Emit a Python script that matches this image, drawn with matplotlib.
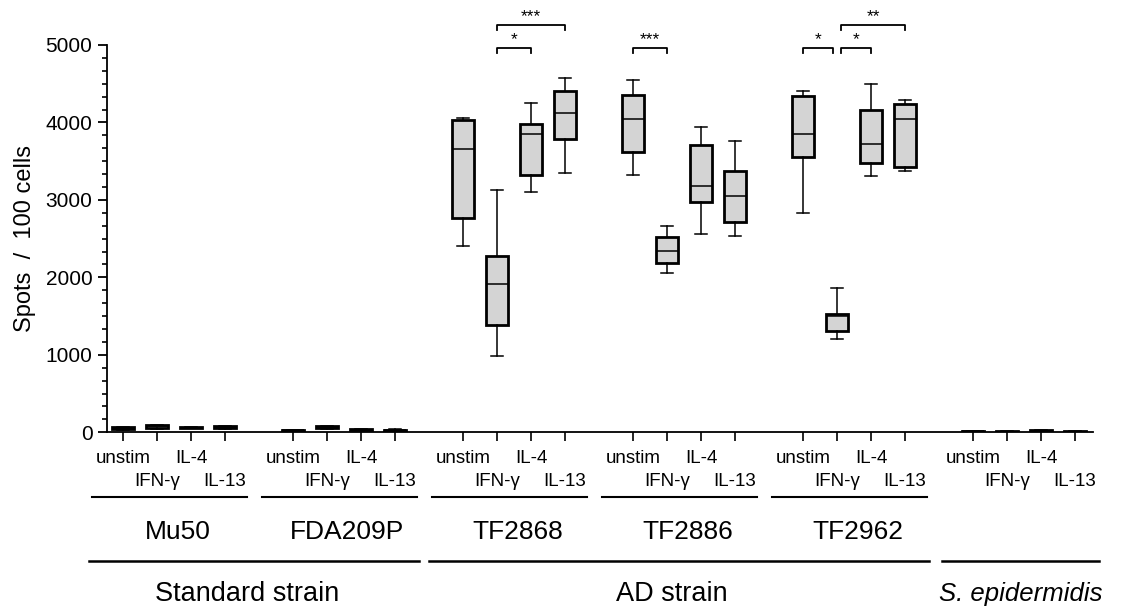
import numpy as np
import matplotlib.pyplot as plt
from matplotlib.ticker import MultipleLocator, AutoMinorLocator

plt.rcParams['font.family'] = ['Liberation Sans', 'DejaVu Sans']

# strains / stimulations
strains = ['Mu50', 'FDA209P', 'TF2868', 'TF2886', 'TF2962', 'S. epidermidis']
stims = ['unstim', 'IFN-γ', 'IL-4', 'IL-13']

# box stats, 4 per strain in stims order
whislo = [30, 45, 50, 45,
          15, 45, 25, 15,
          2410, 990, 3100, 3350,
          3320, 2055, 2565, 2540,
          2835, 1200, 3315, 3375,
          5, 5, 10, 5]
q1 = [40, 60, 55, 55,
      20, 55, 30, 20,
      2770, 1390, 3320, 3785,
      3615, 2190, 2975, 2710,
      3550, 1305, 3480, 3420,
      10, 8, 15, 8]
med = [50, 75, 60, 65,
       25, 65, 35, 25,
       3655, 1910, 3845, 4125,
       4050, 2335, 3185, 3055,
       3850, 1500, 3720, 4045,
       12, 10, 20, 10]
q3 = [65, 90, 65, 75,
      30, 75, 38, 30,
      4030, 2280, 3980, 4405,
      4355, 2520, 3710, 3370,
      4340, 1530, 4160, 4240,
      15, 13, 25, 12]
whishi = [70, 100, 70, 85,
          35, 85, 40, 40,
          4055, 3130, 4245, 4580,
          4550, 2660, 3945, 3760,
          4405, 1865, 4495, 4290,
          18, 15, 28, 14]

# strain classes: (label, first strain idx, last strain idx)
classes = [('Standard strain', 0, 1), ('AD strain', 2, 4), ('S. epidermidis', 5, 5)]

# significance brackets: x1, x2 (box positions), level, label
brackets = [(11, 12, 0, '*'), (11, 13, 1, '***'),
            (15, 16, 0, '***'),
            (20, 20.87, 0, '*'), (21.13, 22, 0, '*'), (21.13, 23, 1, '**')]

pos = []
for g in range(len(strains)):
    for k in range(len(stims)):
        pos.append(g * 5 + k)

stats = []
for i in range(len(pos)):
    stats.append(dict(whislo=whislo[i], q1=q1[i], med=med[i], q3=q3[i], whishi=whishi[i]))

fig = plt.figure(figsize=(11.26, 6.13), dpi=100)
ax = fig.add_axes([0.095, 0.2948, 0.8757, 0.6318])

ax.bxp(stats, positions=pos, widths=0.67, showfliers=False, patch_artist=True,
       manage_ticks=False,
       boxprops=dict(facecolor='#d4d4d4', edgecolor='black', linewidth=2.0),
       medianprops=dict(color='black', linewidth=1.1),
       whiskerprops=dict(color='black', linewidth=1.1),
       capprops=dict(color='black', linewidth=1.1),
       capwidths=0.34)

ax.set_xlim(-0.47, 28.53)
ax.set_ylim(0, 5000)
ax.yaxis.set_major_locator(MultipleLocator(1000))
ax.yaxis.set_minor_locator(AutoMinorLocator(6))
ax.spines['top'].set_visible(False)
ax.spines['right'].set_visible(False)
ax.spines['left'].set_linewidth(1.3)
ax.spines['bottom'].set_linewidth(1.3)
ax.tick_params(axis='y', which='major', length=6.5, width=1.3, labelsize=15, pad=4)
ax.tick_params(axis='y', which='minor', length=3.6, width=1.2)

# unstim / IL-4 on the upper row (major), IFN-γ / IL-13 on the lower row (minor)
top_pos = [p for i, p in enumerate(pos) if i % 2 == 0]
top_lab = [stims[i % 4] for i in range(len(pos)) if i % 2 == 0]
low_pos = [p for i, p in enumerate(pos) if i % 2 == 1]
low_lab = [stims[i % 4] for i in range(len(pos)) if i % 2 == 1]
ax.set_xticks(top_pos, top_lab)
ax.set_xticks(low_pos, low_lab, minor=True)
ax.tick_params(axis='x', which='major', length=6.5, width=1.2, labelsize=13.5, pad=6)
ax.tick_params(axis='x', which='minor', length=6.5, width=1.2, labelsize=13.5, pad=23)

ax.set_ylabel('Spots  /  100 cells', fontsize=17, labelpad=7)

trans = ax.get_xaxis_transform()
# strain names and lines
for g, name in enumerate(strains[:5]):
    x0 = g * 5
    ax.plot([x0 - 0.92, x0 + 3 + 0.65], [-0.168, -0.168], color='black', lw=1.5,
            transform=trans, clip_on=False)
    ax.text(x0 + 1.6, -0.258, name, transform=trans, ha='center', va='center', fontsize=19)

# strain classes
for name, a, b in classes:
    x0 = a * 5 - 1.0
    x1 = b * 5 + 3 + 0.7
    if a == 5:
        x0 = a * 5 - 0.9
    xc = (x0 + x1) / 2 - (0.2 if a < 5 else 0)
    italic = name.startswith('S.')
    ax.plot([x0, x1], [-0.332, -0.332], color='black', lw=1.8, transform=trans, clip_on=False)
    ax.text(xc, -0.418, name, transform=trans, ha='center', va='center',
            fontsize=18.5 if italic else 19.5, style='italic' if italic else 'normal')

# significance brackets
for x1, x2, lvl, lab in brackets:
    y = 4957 + lvl * 300
    ax.plot([x1, x1, x2, x2], [y - 60, y, y, y - 60], color='black', lw=1.3, clip_on=False)
    ax.text((x1 + x2) / 2, y + 10, lab, ha='center', va='bottom', fontsize=12.5)

fig.savefig('out.png', dpi=100)
